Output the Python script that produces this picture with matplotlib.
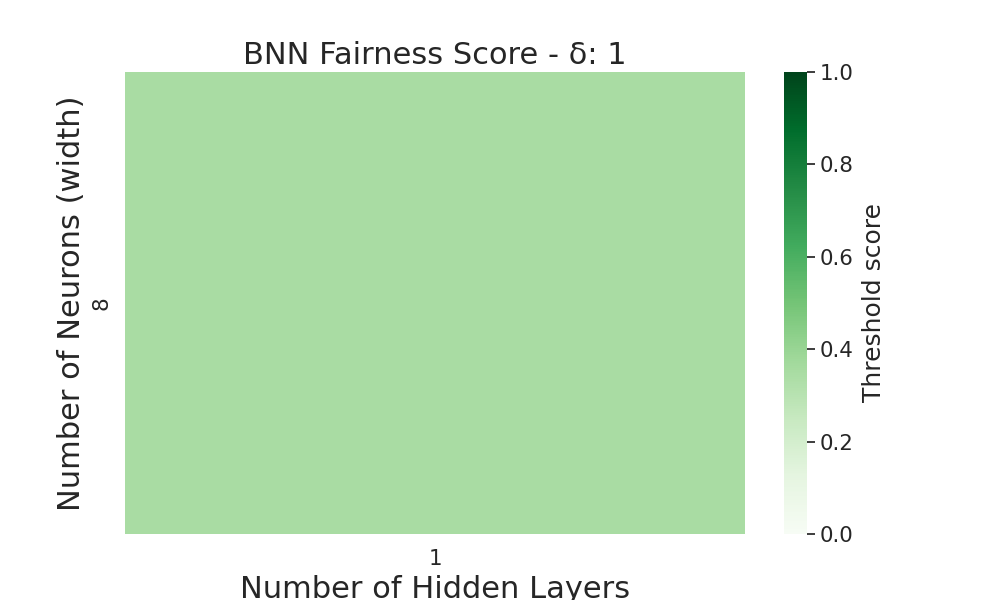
import numpy as np
import matplotlib
matplotlib.use("Agg")
import matplotlib.pyplot as plt
import seaborn as sns
import pandas as pd

# layer count on x, width on y, one run only
hidden_layers = [1]
neurons = [8]
scores = [[0.35]]

sns.set_theme(style="white", font_scale=1.4)

df = pd.DataFrame(scores, index=neurons, columns=hidden_layers)

fig, ax = plt.subplots(figsize=(10, 6))
sns.heatmap(df, ax=ax, cmap="Greens", vmin=0, vmax=1, cbar_kws={})
ax.set_title("BNN Fairness Score - δ: 1", fontsize=22)
ax.set_xlabel("Number of Hidden Layers", fontsize=22)
ax.set_ylabel("Number of Neurons (width)", fontsize=22)
ax.tick_params(axis="x", pad=5)
cbar = ax.collections[0].colorbar
cbar.set_label("Threshold score", fontsize=18, labelpad=6)
plt.savefig("out.png", dpi=100)
